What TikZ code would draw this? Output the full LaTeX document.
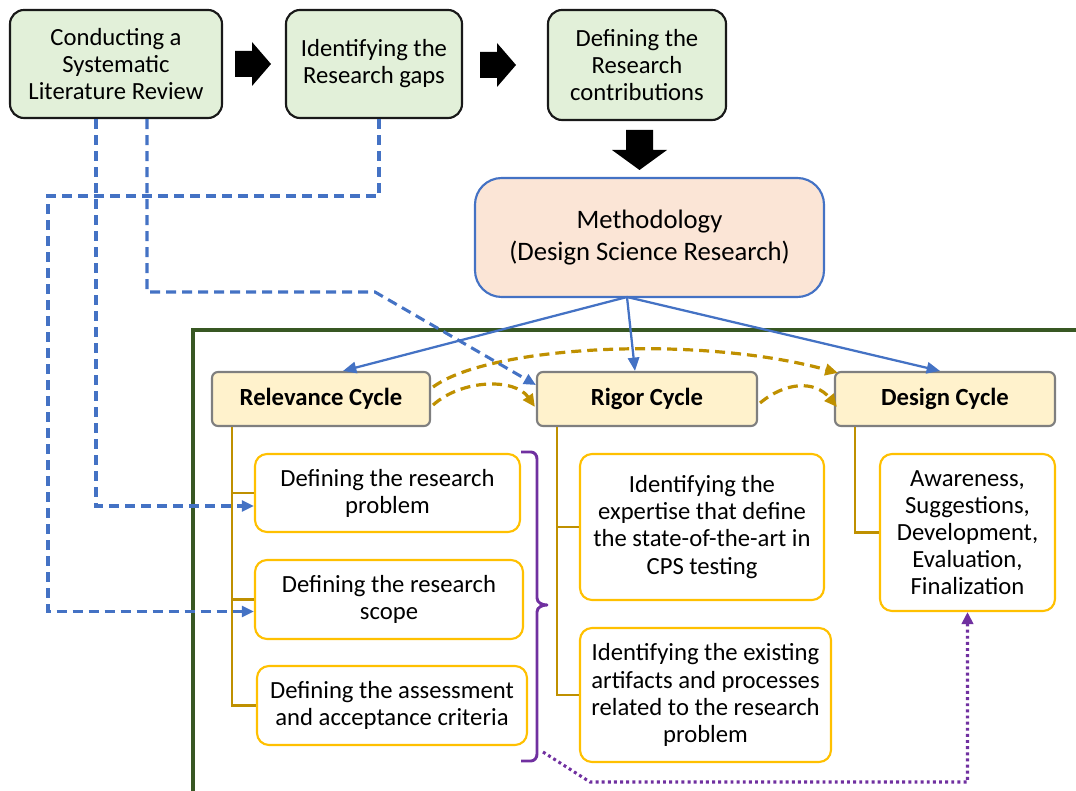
\documentclass[tikz,border=0pt]{standalone}
\usepackage{fontspec}
\setmainfont{Carlito}
\usetikzlibrary{arrows.meta,calc}

\definecolor{stepgreen}{HTML}{E2F0D9}
\definecolor{methfill}{HTML}{FBE5D6}
\definecolor{linkblue}{HTML}{4472C4}
\definecolor{cyclefill}{HTML}{FFF2CC}
\definecolor{cycleedge}{HTML}{7F7F7F}
\definecolor{itemedge}{HTML}{FFC000}
\definecolor{treegold}{HTML}{BF9000}
\definecolor{framegreen}{HTML}{385723}
\definecolor{bracketpurple}{HTML}{7030A0}

\begin{document}
\begin{tikzpicture}[x=0.75pt,y=-0.75pt,
  txt/.style={font=\fontsize{18.5}{20.3}\selectfont, align=center, inner sep=0pt},
  stepbox/.style={txt, draw=black!90, line width=1.6pt, fill=stepgreen,
    rounded corners=10.5pt},
  methbox/.style={draw=linkblue, line width=1.6pt, fill=methfill, rounded corners=20pt,
    align=center, inner sep=0pt, font=\fontsize{20}{24.5}\selectfont},
  cyclebox/.style={draw=cycleedge, line width=1.6pt, fill=cyclefill, rounded corners=4.5pt,
    inner sep=0pt, font=\fontsize{18.5}{20.3}\selectfont\bfseries},
  itembox/.style={txt, draw=itemedge, line width=1.6pt, fill=white, rounded corners=9pt},
  blockarrow/.style={fill=black, draw=none},
  solidlink/.style={draw=linkblue, line width=1.7pt, -{Triangle[length=10pt,width=8.5pt]}},
  bluedash/.style={draw=linkblue, line width=2.3pt, dash pattern=on 7.5pt off 4.5pt},
  bluedasharrow/.style={bluedash, -{Triangle[length=9pt,width=8pt]}},
  golddash/.style={draw=treegold, line width=2.4pt, dash pattern=on 7.5pt off 4.5pt,
    -{Triangle[length=9.5pt,width=8.5pt]}},
  tree/.style={draw=treegold, line width=1.6pt},
  purpledot/.style={draw=bracketpurple, line width=2.3pt, dash pattern=on 2.2pt off 2.4pt,
    -{Triangle[length=9pt,width=8.5pt]}},
]
\useasboundingbox (0,0) rectangle (1076,791);

% frame around the three cycles
\draw[framegreen, line width=2.6pt] (193,795) -- (193,330) -- (1080,330);

% top row of steps
\node[stepbox, minimum width=159pt, minimum height=81pt] (A) at (116,64)
  {Conducting a\\Systematic\\Literature Review};
\node[stepbox, minimum width=132pt, minimum height=81pt] (B) at (374,64)
  {Identifying the\\Research gaps};
\node[stepbox, minimum width=133.5pt, minimum height=82.5pt] (C) at (637,65)
  {Defining the\\Research\\contributions};

% block arrows between the steps
\coordinate (AB) at (235,64);
\coordinate (BC) at (480,65);
\coordinate (CM) at (639.5,130);
\fill[blockarrow] (AB) ++(0,-13) -- ++(17,0) -- ++(0,-9) -- ++(19,22) -- ++(-19,22)
  -- ++(0,-9) -- ++(-17,0) -- cycle;
\fill[blockarrow] (BC) ++(0,-13) -- ++(17,0) -- ++(0,-9) -- ++(19,22) -- ++(-19,22)
  -- ++(0,-9) -- ++(-17,0) -- cycle;
\fill[blockarrow] (CM) ++(-13.5,0) -- ++(0,20) -- ++(-14,0) -- ++(27.5,20) -- ++(27.5,-20)
  -- ++(-14,0) -- ++(0,-20) -- cycle;

% methodology
\node[methbox, minimum width=261.75pt, minimum height=89.25pt] (M) at (649.5,237.5)
  {Methodology\\(Design Science Research)};

% the three cycles
\node[cyclebox, minimum width=163.5pt, minimum height=40.5pt] (Rel) at (321,399) {Relevance Cycle};
\node[cyclebox, minimum width=165pt, minimum height=40.5pt] (Rig) at (647,399) {Rigor Cycle};
\node[cyclebox, minimum width=165pt, minimum height=40.5pt] (Des) at (945,399) {Design Cycle};

% activities of each cycle
\node[itembox, minimum width=198.75pt, minimum height=58.5pt] (P1) at (387.5,493)
  {Defining the research\\problem};
\node[itembox, minimum width=201pt, minimum height=59.25pt] (P2) at (389,599.5)
  {Defining the research\\scope};
\node[itembox, minimum width=202.5pt, minimum height=59.25pt] (P3) at (392,705.5)
  {Defining the assessment\\and acceptance criteria};
\node[itembox, minimum width=183pt, minimum height=109.5pt] (R1) at (702,527)
  {Identifying the\\expertise that define\\the state-of-the-art in\\CPS testing};
\node[itembox, minimum width=188.25pt, minimum height=100.5pt] (R2) at (705.5,695)
  {Identifying the existing\\artifacts and processes\\related to the research\\problem};
\node[itembox, minimum width=131.25pt, minimum height=117.75pt] (D1) at (967.5,532.5)
  {Awareness,\\Suggestions,\\Development,\\Evaluation,\\Finalization};

% tree connectors
\draw[tree] ($(Rel.south west)+(21,0)$) |- (P1.west);
\draw[tree] ($(Rel.south west)+(21,0)$) |- (P2.west);
\draw[tree] ($(Rel.south west)+(21,0)$) |- (P3.west);
\draw[tree] ($(Rig.south west)+(21,0)$) |- (R1.west);
\draw[tree] ($(Rig.south west)+(21,0)$) |- (R2.west);
\draw[tree] ($(Des.south west)+(21,0)$) |- (D1.west);

% methodology feeds the cycles
\coordinate (fork) at (627,297);
\draw[solidlink] (fork) -- ($(Rel.north)+(22,0)$);
\draw[solidlink] (fork) -- ($(Rig.north)+(-12,0)$);
\draw[solidlink] (fork) -- ($(Des.north)+(-5,0)$);

% relations between cycles
\draw[golddash] ($(Rel.east)+(2,-12)$) .. controls (490,345) and (700,335) .. ($(Des.north west)+(4,2)$);
\draw[golddash] ($(Rel.east)+(2,6)$) .. controls (462,379) and (515,378) .. ($(Rig.west)+(-1,8)$);
\draw[golddash] ($(Rig.east)+(2,4)$) .. controls (785,382) and (815,380) .. ($(Des.west)+(3,8)$);

% links from the literature review and the gaps
\draw[bluedasharrow] ($(A.south)+(31,0)$) |- (375,292) -- ($(Rig.west)+(0,-14)$);
\draw[bluedasharrow] ($(A.south)+(-20,0)$) |- ($(P1.west)+(0,13)$);
\draw[bluedasharrow] ($(B.south)+(5,0)$) |- (48,196) |- ($(P2.west)+(0,12)$);

% bracket grouping the relevance activities
\draw[bracketpurple, line width=2.2pt, line join=round]
  (521,452) -- (531,452) to[out=0,in=90] (537,459) -- (537,598)
  to[out=-90,in=180] (547,605) to[out=180,in=90] (537,612) -- (537,754)
  to[out=-90,in=0] (531,761) -- (521,761);
\coordinate (brk) at (543,752);
\draw[purpledot] (brk) -- (590,782) -| (D1.south);

\end{tikzpicture}
\end{document}
